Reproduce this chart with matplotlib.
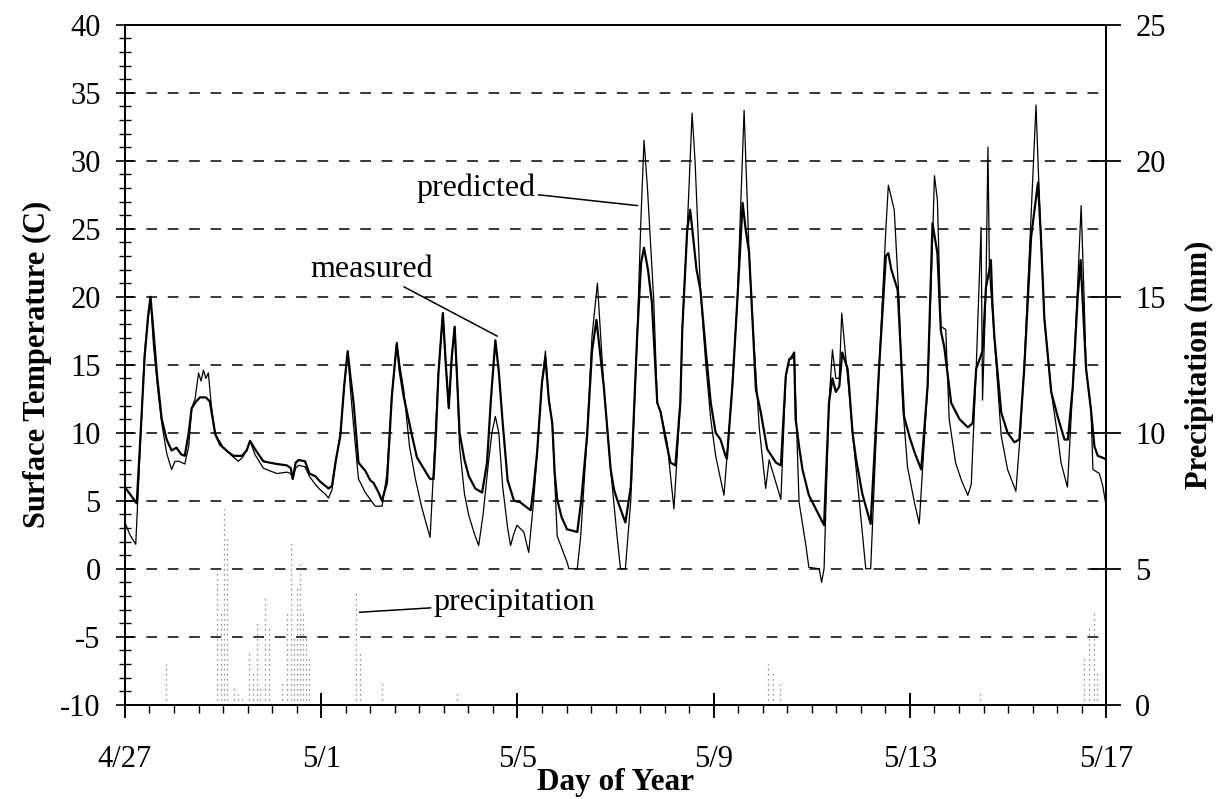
import matplotlib
matplotlib.use("Agg")
import matplotlib.pyplot as plt
from matplotlib.ticker import MultipleLocator, FixedLocator
import numpy as np

plt.rcParams['font.family'] = ['Liberation Serif', 'DejaVu Serif']
plt.rcParams['axes.unicode_minus'] = False

# time in days after 4/27 00:00
meas_t = [0.00, 0.12, 0.24, 0.32, 0.40, 0.47, 0.52, 0.58, 0.66, 0.75, 0.85, 0.95, 1.05, 1.15, 1.22,
          1.30, 1.36, 1.45, 1.53, 1.65, 1.73, 1.80, 1.84, 1.94, 2.10, 2.21, 2.31, 2.38, 2.48, 2.55,
          2.65, 2.82, 2.95, 3.10, 3.30, 3.38, 3.42, 3.48, 3.54, 3.67, 3.76, 3.88, 3.98, 4.08, 4.15,
          4.22, 4.30, 4.39, 4.47, 4.54, 4.60, 4.66, 4.76, 4.90, 5.00, 5.07, 5.17, 5.24, 5.30, 5.34,
          5.44, 5.50, 5.54, 5.60, 5.68, 5.78, 5.85, 5.95, 6.05, 6.15, 6.22, 6.29, 6.34, 6.39, 6.48,
          6.54, 6.60, 6.66, 6.72, 6.77, 6.82, 6.92, 7.01, 7.14, 7.28, 7.38, 7.46, 7.55, 7.62, 7.70,
          7.80, 7.93, 8.05, 8.16, 8.27, 8.33, 8.40, 8.50, 8.57, 8.64, 8.71, 8.76, 8.81, 8.90, 9.01,
          9.12, 9.22, 9.30, 9.42, 9.52, 9.61, 9.68, 9.76, 9.90, 9.97, 10.03, 10.12, 10.20, 10.31,
          10.44, 10.52, 10.58, 10.66, 10.74, 10.85, 10.92, 11.02, 11.12, 11.22, 11.32, 11.36, 11.46,
          11.52, 11.56, 11.65, 11.73, 11.84, 11.94, 12.04, 12.14, 12.24, 12.27, 12.38, 12.48, 12.56,
          12.59, 12.65, 12.72, 12.79, 12.86, 12.96, 13.09, 13.27, 13.37, 13.47, 13.54, 13.60, 13.64,
          13.67, 13.74, 13.81, 13.94, 14.15, 14.25, 14.35, 14.42, 14.49, 14.56, 14.62, 14.73, 14.76,
          14.83, 14.90, 15.03, 15.17, 15.20, 15.37, 15.51, 15.56, 15.62, 15.75, 15.88, 16.00, 16.10,
          16.23, 16.36, 16.46, 16.56, 16.63, 16.70, 16.84, 17.01, 17.18, 17.28, 17.35, 17.48, 17.55,
          17.62, 17.65, 17.68, 17.72, 17.86, 17.99, 18.13, 18.23, 18.33, 18.47, 18.61, 18.67, 18.74,
          18.88, 19.01, 19.15, 19.22, 19.32, 19.42, 19.48, 19.59, 19.69, 19.76, 19.83, 19.97, 20.00]
meas_v = [6.0, 5.4, 4.8, 10.0, 15.5, 18.5, 20.0, 17.5, 14.0, 11.0, 9.5, 8.7, 8.9, 8.4, 8.3,
          10.0, 11.8, 12.3, 12.6, 12.6, 12.3, 10.8, 9.9, 9.1, 8.6, 8.3, 8.3, 8.3, 8.7, 9.4,
          8.8, 7.9, 7.8, 7.7, 7.6, 7.4, 6.6, 7.8, 8.0, 7.9, 7.0, 6.8, 6.4, 6.1, 5.9,
          6.1, 8.0, 9.8, 13.5, 16.0, 14.0, 12.2, 7.8, 7.2, 6.5, 6.3, 5.6, 5.0, 5.8, 6.3,
          12.7, 15.0, 16.6, 14.5, 12.7, 11.0, 9.8, 8.2, 7.6, 7.0, 6.6, 6.6, 10.0, 14.4, 18.8,
          15.0, 11.8, 15.5, 17.8, 14.0, 10.0, 8.0, 6.8, 5.9, 5.6, 7.8, 12.5, 16.8, 14.5, 10.7,
          6.5, 5.0, 4.9, 4.6, 4.3, 6.0, 8.5, 13.7, 15.5, 12.4, 10.7, 7.0, 5.1, 3.8, 2.9,
          2.8, 2.7, 5.0, 9.8, 16.0, 18.3, 16.0, 13.4, 7.3, 5.8, 5.1, 4.2, 3.4, 6.0,
          17.1, 22.5, 23.6, 22.0, 19.6, 12.2, 11.5, 9.5, 7.8, 7.6, 12.2, 17.6, 24.9,
          26.4, 25.1, 22.0, 20.5, 16.0, 12.2, 10.0, 9.5, 8.3, 8.1, 13.4, 19.6, 25.0,
          26.9, 25.0, 23.3, 18.4, 13.2, 11.5, 8.8, 7.8, 7.6, 14.2, 15.4, 15.5, 15.9,
          11.0, 9.0, 7.3, 5.4, 3.9, 3.2, 12.2, 14.0, 13.0, 13.4, 15.9, 14.7, 13.4,
          10.0, 8.1, 5.5, 3.7, 3.3, 14.7, 23.0, 23.2, 22.0, 20.5, 11.2, 9.6, 8.5,
          7.3, 13.4, 25.4, 23.2, 17.5, 16.3, 12.2, 11.0, 10.4, 10.7, 14.7, 16.0, 20.7,
          22.0, 22.7, 19.6, 17.1, 11.5, 10.0, 9.3, 9.5, 14.7, 24.4, 28.4, 24.4, 18.4,
          13.0, 11.2, 9.5, 9.5, 13.4, 20.0, 22.7, 14.7, 11.7, 9.0, 8.3, 8.1, 8.0]

pred_t = [0.00, 0.10, 0.22, 0.30, 0.40, 0.52, 0.58, 0.66, 0.75, 0.85, 0.95, 1.02, 1.10, 1.22,
          1.30, 1.36, 1.43, 1.50, 1.55, 1.60, 1.65, 1.70, 1.76, 1.84, 2.01, 2.15, 2.31, 2.40,
          2.48, 2.55, 2.65, 2.82, 2.95, 3.10, 3.30, 3.38, 3.42, 3.48, 3.54, 3.67, 3.76, 3.88,
          3.98, 4.08, 4.15, 4.22, 4.30, 4.39, 4.47, 4.54, 4.60, 4.66, 4.76, 4.90, 5.10, 5.24,
          5.30, 5.34, 5.44, 5.54, 5.60, 5.68, 5.80, 5.92, 6.05, 6.15, 6.22, 6.30, 6.39, 6.48,
          6.54, 6.60, 6.66, 6.72, 6.77, 6.82, 6.92, 7.01, 7.12, 7.21, 7.30, 7.40, 7.48, 7.55,
          7.62, 7.70, 7.80, 7.86, 7.92, 7.99, 8.13, 8.23, 8.33, 8.40, 8.50, 8.57, 8.64, 8.71,
          8.81, 9.01, 9.05, 9.22, 9.29, 9.42, 9.52, 9.63, 9.76, 9.90, 10.03, 10.10, 10.20,
          10.31, 10.44, 10.52, 10.58, 10.65, 10.78, 10.85, 10.92, 11.05, 11.19, 11.32, 11.36,
          11.46, 11.56, 11.62, 11.73, 11.84, 11.94, 12.04, 12.21, 12.38, 12.48, 12.62, 12.72,
          12.79, 12.93, 13.06, 13.13, 13.27, 13.37, 13.47, 13.54, 13.64, 13.74, 13.88, 13.94,
          14.15, 14.20, 14.25, 14.35, 14.42, 14.49, 14.56, 14.61, 14.68, 14.76, 14.83, 14.97,
          15.10, 15.20, 15.37, 15.51, 15.56, 15.68, 15.78, 15.85, 15.95, 16.09, 16.19, 16.36,
          16.46, 16.50, 16.56, 16.63, 16.73, 16.80, 16.93, 17.05, 17.18, 17.25, 17.35, 17.45,
          17.48, 17.55, 17.59, 17.62, 17.68, 17.86, 17.99, 18.16, 18.25, 18.33, 18.47, 18.57,
          18.61, 18.67, 18.74, 18.88, 19.01, 19.08, 19.21, 19.32, 19.42, 19.49, 19.55, 19.59,
          19.69, 19.73, 19.86, 19.93, 20.00]
pred_v = [3.4, 2.5, 1.8, 8.0, 16.0, 20.0, 16.5, 13.5, 10.7, 8.5, 7.3, 7.9, 7.9, 7.7,
          9.0, 11.8, 12.5, 14.4, 13.8, 14.6, 14.0, 14.4, 12.0, 9.9, 8.9, 8.4, 7.9, 8.2,
          8.7, 9.4, 8.4, 7.4, 7.2, 7.0, 7.1, 7.0, 6.6, 7.4, 7.6, 7.5, 6.8, 6.2,
          5.8, 5.5, 5.2, 5.8, 8.0, 9.8, 13.5, 16.0, 13.0, 10.5, 6.6, 5.6, 4.6, 4.6,
          6.0, 7.0, 12.7, 16.6, 15.0, 13.2, 9.0, 6.6, 4.5, 3.2, 2.3, 8.0, 14.4, 18.8,
          15.0, 11.8, 15.5, 17.8, 14.0, 9.0, 5.5, 3.9, 2.6, 1.7, 4.0, 7.5, 10.0, 11.2,
          10.0, 6.0, 3.0, 1.7, 2.5, 3.2, 2.7, 1.2, 5.0, 8.5, 13.7, 16.0, 12.4, 10.7,
          2.4, 0.5, 0.0, 0.0, 2.4, 9.8, 17.1, 21.0, 13.4, 7.3, 2.4, 0.0, 0.0,
          5.0, 17.1, 26.0, 31.5, 28.0, 19.6, 12.2, 11.5, 9.3, 4.4, 12.2, 17.6,
          24.9, 33.5, 30.0, 20.5, 15.0, 11.0, 8.3, 5.4, 13.4, 19.6, 33.7, 23.3,
          18.4, 10.3, 5.9, 8.0, 6.3, 5.1, 14.2, 15.4, 15.9, 4.9, 1.7, 0.1,
          0.0, -1.0, 0.0, 12.2, 16.1, 14.0, 14.0, 18.8, 16.0, 13.0, 10.0, 4.9,
          0.0, 0.0, 14.7, 25.0, 28.2, 26.4, 19.6, 12.2, 7.5, 4.9, 3.3, 13.4,
          24.0, 28.9, 27.1, 17.8, 17.6, 11.0, 7.8, 6.5, 5.4, 6.2, 14.7, 25.1,
          12.4, 20.7, 31.0, 22.0, 19.0, 9.8, 7.3, 5.7, 10.0, 15.0, 26.0, 34.1,
          30.0, 24.4, 18.4, 13.0, 9.8, 7.8, 6.0, 13.4, 21.0, 26.7, 20.0, 14.7,
          11.7, 7.3, 7.0, 6.1, 4.6]

precip_t = [0.84, 1.87, 1.95, 2.01, 2.09, 2.22, 2.30, 2.38, 2.52, 2.60, 2.69, 2.76, 2.86, 2.93,
            3.20, 3.30, 3.38, 3.44, 3.50, 3.57, 3.63, 3.69, 3.76, 4.71, 4.80, 5.24, 6.77,
            13.10, 13.20, 13.36, 17.42, 19.55, 19.65, 19.75, 19.82]
precip_v = [1.5, 5.1, 3.5, 7.2, 6.1, 0.6, 0.4, 0.3, 2.0, 1.2, 3.0, 0.6, 4.0, 2.9,
            0.9, 3.4, 6.0, 2.5, 4.3, 5.2, 3.4, 2.5, 1.7, 4.1, 1.9, 0.8, 0.4,
            1.5, 1.2, 0.8, 0.5, 1.8, 2.9, 3.4, 1.2]

xtick_pos = [0, 4, 8, 12, 16, 20]
xtick_labels = ['4/27', '5/1', '5/5', '5/9', '5/13', '5/17']

fig = plt.figure(figsize=(12.25, 7.99), dpi=100)
ax = fig.add_axes([0.102, 0.118, 0.801, 0.851])

ax.set_xlim(0, 20)
ax.set_ylim(-10, 40)
ax.yaxis.set_major_locator(MultipleLocator(5))
ax.yaxis.set_minor_locator(MultipleLocator(1))
ax.xaxis.set_major_locator(FixedLocator(xtick_pos))
ax.set_xticklabels(xtick_labels)
ax.xaxis.set_minor_locator(MultipleLocator(0.5))

for yv in range(-5, 40, 5):
    ax.axhline(yv, color='black', lw=1.1, ls=(0, (7, 7)), zorder=1)

ax.plot(pred_t, pred_v, color='black', lw=0.9, zorder=3)
ax.plot(meas_t, meas_v, color='black', lw=1.6, zorder=4)

ax.tick_params(axis='y', which='major', direction='inout', length=13, width=1.2, labelsize=22, pad=11)
ax.tick_params(axis='y', which='minor', direction='inout', length=8, width=1.0)
ax.tick_params(axis='x', which='major', direction='inout', length=18, width=1.4, labelsize=22, pad=20)
ax.tick_params(axis='x', which='minor', direction='out', length=6, width=1.0)
for s in ax.spines.values():
    s.set_linewidth(1.3)

ax.set_ylabel('Surface Temperature (C)', fontsize=22, fontweight='bold', labelpad=6)
ax.set_xlabel('Day of Year', fontsize=22.5, fontweight='bold', labelpad=-4)

ax2 = ax.twinx()
ax2.set_ylim(0, 25)
ax2.yaxis.set_major_locator(MultipleLocator(5))
ax2.vlines(precip_t, 0, precip_v, colors='0.45', linestyles=(0, (1, 3)), lw=0.9, zorder=2)
ax2.tick_params(axis='y', which='major', direction='inout', length=22, width=1.3, labelsize=22, pad=10)
ax2.set_ylabel('Precipitation (mm)', fontsize=22, fontweight='bold', labelpad=14)
for s in ax2.spines.values():
    s.set_linewidth(1.3)

ann_kw = dict(fontsize=23, arrowprops=dict(arrowstyle='-', color='black', lw=1.1, shrinkA=0, shrinkB=0))
ax.annotate('predicted', xy=(10.45, 26.7), xytext=(8.37, 28.0), ha='right', va='center', **ann_kw)
ax.annotate('measured', xy=(7.59, 17.1), xytext=(6.27, 22.0), ha='right', va='center', **ann_kw)
ax.annotate('precipitation', xy=(4.78, -3.2), xytext=(6.29, -2.5), ha='left', va='center', **ann_kw)

fig.savefig('out.png', dpi=100)
